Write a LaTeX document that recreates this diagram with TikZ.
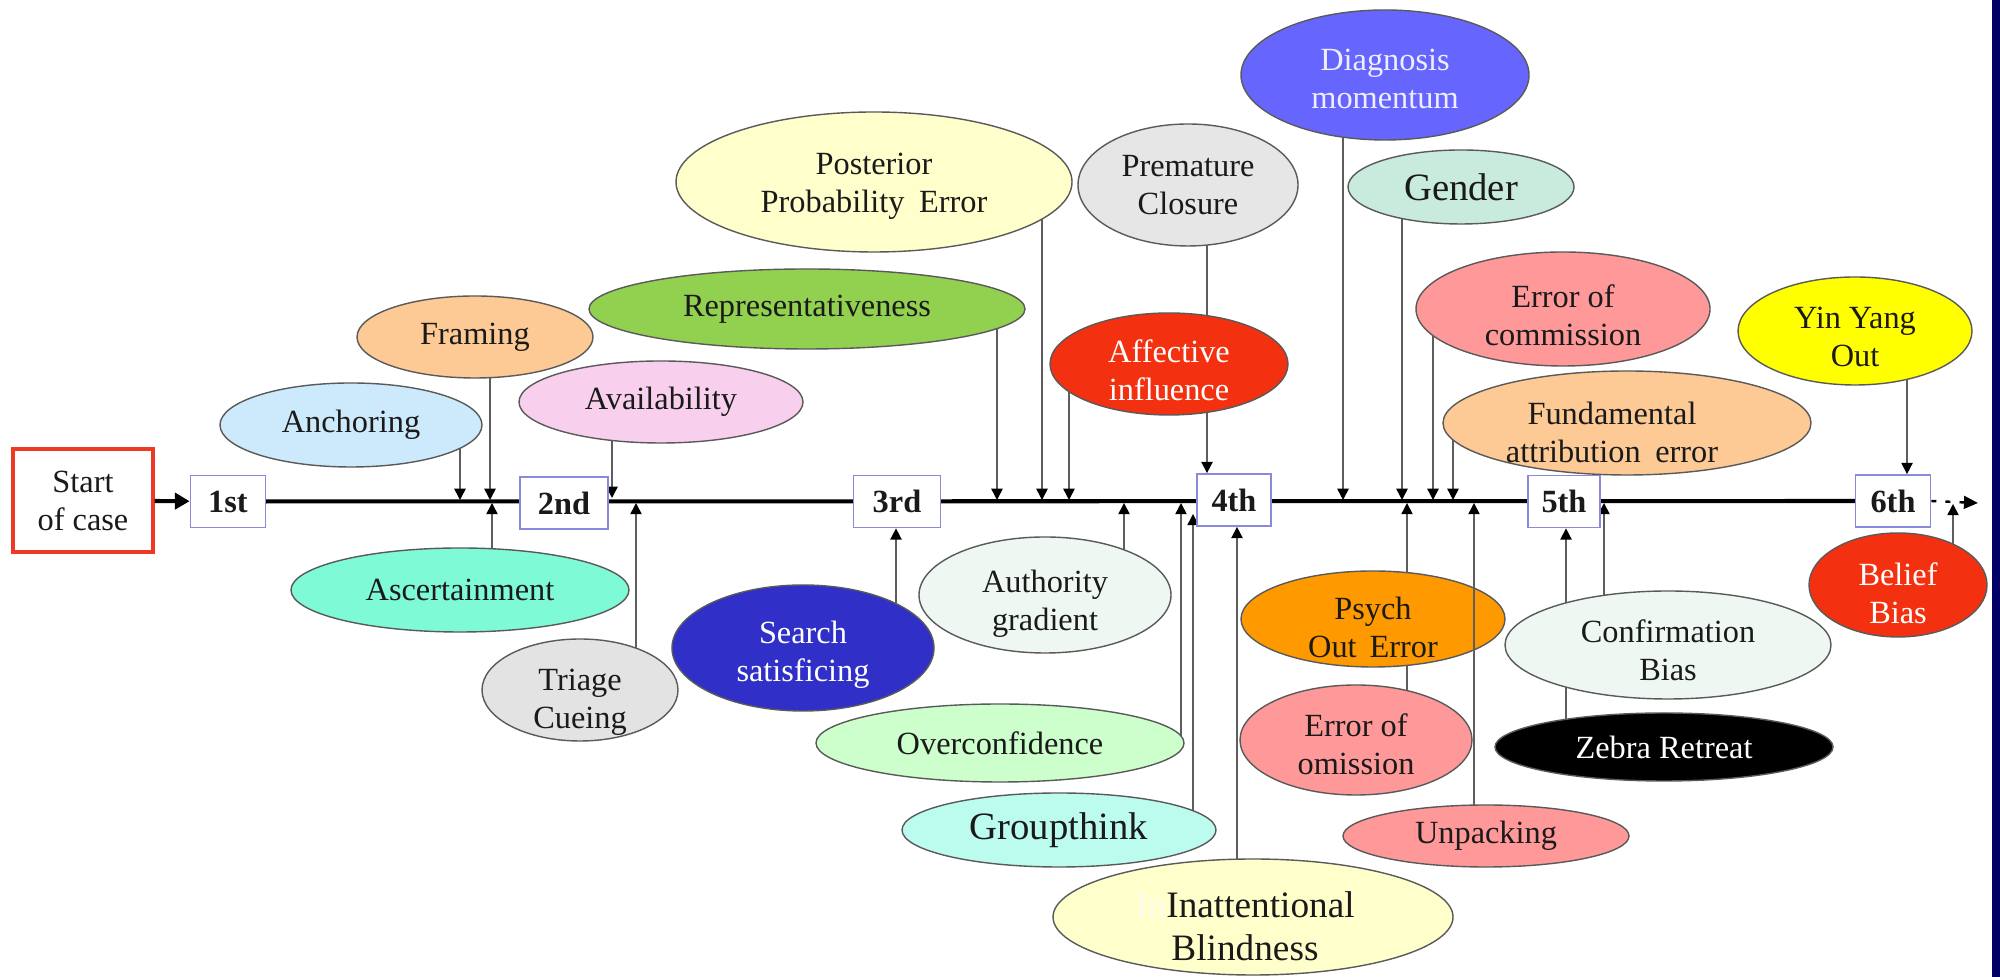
\documentclass[tikz,border=0pt]{standalone}
\usepackage{fontspec}
\setmainfont{Liberation Serif}
\usetikzlibrary{shapes.geometric,arrows.meta,backgrounds}

\definecolor{cText}{HTML}{1A1A1A}
\definecolor{cEdge}{HTML}{5A5A5A}
\definecolor{cLine}{HTML}{5E5E5E}
\definecolor{cBox}{HTML}{8A8ADC}
\definecolor{cRed}{HTML}{EE3A24}
\definecolor{cNavy}{HTML}{000066}
\definecolor{cAnch}{HTML}{CCEAFB}
\definecolor{cFram}{HTML}{FDC995}
\definecolor{cAvail}{HTML}{F8D0EE}
\definecolor{cRepr}{HTML}{92D050}
\definecolor{cPost}{HTML}{FFFFCC}
\definecolor{cPrem}{HTML}{E6E6E6}
\definecolor{cAff}{HTML}{F3300F}
\definecolor{cDiag}{HTML}{6666FF}
\definecolor{cDiagT}{HTML}{EEEEFF}
\definecolor{cGend}{HTML}{C8EBDD}
\definecolor{cEoc}{HTML}{FF9999}
\definecolor{cYin}{HTML}{FFFF00}
\definecolor{cFund}{HTML}{FDC995}
\definecolor{cAsc}{HTML}{7FFAD6}
\definecolor{cTri}{HTML}{E3E3E3}
\definecolor{cSearch}{HTML}{3030C8}
\definecolor{cAuth}{HTML}{EEF7F2}
\definecolor{cOver}{HTML}{CCFFCC}
\definecolor{cGroup}{HTML}{BBFCEE}
\definecolor{cInatt}{HTML}{FFFFCC}
\definecolor{cGhost}{HTML}{FCFCEE}
\definecolor{cPsych}{HTML}{FF9900}

\newcommand\basefont{\fontsize{9.2}{10.8}\selectfont}
\newcommand\bigfont{\fontsize{11}{12.6}\selectfont}
\newcommand\inattfont{\fontsize{10.6}{12.1}\selectfont}

% oval bias node: [label options]{name}{centre}{x radius}{y radius}{fill}{text}
\newcommand\biasnode[7][]{%
  \node[oval, fill=#6, minimum width={2*#4*0.01cm}, minimum height={2*#5*0.01cm}] (#2) at (#3) {};
  \node[lbl, #1] (#2-t) at (#2.center) {#7};}

\begin{document}
\begin{tikzpicture}[x=0.01cm, y=-0.01cm,
  oval/.style={ellipse, draw=cEdge, line width=0.4pt, inner sep=0pt, outer sep=0pt},
  lbl/.style={align=center, inner sep=0pt, text=cText, font=\basefont},
  stage/.style={draw=cBox, line width=0.5pt, fill=white, inner sep=0pt,
    minimum height={52*0.01cm}, font=\basefont\bfseries, text=cText},
  conn/.style={draw=cLine, line width=0.45pt,
    -{Triangle[width=3.2pt,length=3.2pt,color=black]}},
  tline/.style={line width=1.15pt, black},
]
\useasboundingbox (0,0) rectangle (2000,977);

% start of the case and the six stages
\node[draw=cRed, line width=0.9pt, fill=white, minimum width={140*0.01cm},
  minimum height={103*0.01cm}, align=center, font=\basefont, text=cText,
  inner sep=0pt] (start) at (83,500.5) {Start\\of case};
\node[stage, minimum width={75*0.01cm}] (b1) at (228,501.5) {1st};
\node[stage, minimum width={88*0.01cm}] (b2) at (564,503) {2nd};
\node[stage, minimum width={87*0.01cm}] (b3) at (897,501.5) {3rd};
\node[stage, minimum width={74*0.01cm}] (b4) at (1234,500) {4th};
\node[stage, minimum width={72*0.01cm}] (b5) at (1564,501.5) {5th};
\node[stage, minimum width={75*0.01cm}] (b6) at (1893,501) {6th};

% biases above the time line
\biasnode{anch}{351,425}{131}{42}{cAnch}{Anchoring}
\biasnode{fram}{475,337}{118}{41}{cFram}{Framing}
\biasnode{avail}{661,402}{142}{41}{cAvail}{Availability}
\biasnode{repr}{807,309}{218}{40}{cRepr}{Representativeness}
\biasnode[yshift=-0.04cm]{post}{874,182}{198}{70}{cPost}{Posterior\\Probability\hspace{0.45em}Error}
\biasnode{prem}{1188,185}{110}{61}{cPrem}{Premature\\Closure}
\biasnode[text=white, yshift=-0.06cm]{affect}{1169,364}{119}{51}{cAff}{Affective\\influence}
\biasnode[text=cDiagT, yshift=-0.04cm]{diag}{1385,75}{144}{65}{cDiag}{Diagnosis\\momentum}
\biasnode[font=\bigfont]{gender}{1461,187}{113}{37}{cGend}{Gender}
\biasnode[yshift=-0.06cm]{eoc}{1563,309}{147}{57}{cEoc}{Error of\\commission}
\biasnode[yshift=-0.06cm]{yin}{1855,331}{117}{54}{cYin}{Yin Yang\\Out}
\biasnode[xshift=-0.15cm, yshift=-0.09cm]{fund}{1627,423}{184}{52}{cFund}{Fundamental\\attribution\hspace{0.45em}error}

% biases below the time line
\biasnode{asc}{460,590}{169}{42}{cAsc}{Ascertainment}
\biasnode[yshift=-0.12cm]{triage}{580,690}{98}{51}{cTri}{Triage\\Cueing}
\biasnode[text=white, yshift=-0.07cm]{search}{803,648}{131}{63}{cSearch}{Search\\satisficing}
\biasnode[yshift=-0.09cm]{auth}{1045,595}{126}{58}{cAuth}{Authority\\gradient}
\biasnode{overc}{1000,743}{184}{39}{cOver}{Overconfidence}
\biasnode[font=\bigfont]{group}{1059,830}{157}{37}{cGroup}{Groupthink}
\biasnode[font=\inattfont, xshift=-0.08cm, yshift=-0.09cm]{inatt}{1253,917}{200}{58}{cInatt}{{\color{cGhost}In}Inattentional\\Blindness}
\biasnode[yshift=-0.08cm]{psych}{1373,619}{132}{48}{cPsych}{Psych\\Out\hspace{0.4em}Error}
\biasnode[yshift=-0.04cm]{eoo}{1356,740}{116}{55}{cEoc}{Error of\\omission}
\biasnode{unpack}{1486,836}{143}{31}{cEoc}{Unpacking}
\biasnode[yshift=-0.05cm]{conf}{1668,645}{163}{54}{cAuth}{Confirmation\\Bias}
\biasnode[text=white]{zebra}{1664,747}{169}{34}{black}{Zebra Retreat}
\biasnode[text=white, yshift=-0.08cm]{belief}{1898,585}{89}{52}{cAff}{Belief\\Bias}

% points where the connectors meet the time line
\coordinate (pAnch)  at (460,500);
\coordinate (pFram)  at (490,500);
\coordinate (pAvail) at (612,498);
\coordinate (pRepr)  at (997,500);
\coordinate (pPost)  at (1042,500);
\coordinate (pAff)   at (1069,500);
\coordinate (pPrem)  at (1207,0);
\coordinate (pDiag)  at (1343,500);
\coordinate (pGend)  at (1402,500);
\coordinate (pEoc)   at (1433,500);
\coordinate (pFund)  at (1453,500);
\coordinate (pYin)   at (1907,0);
\coordinate (pAsc)   at (492,503);
\coordinate (pTri)   at (636,503);
\coordinate (pSearch) at (896,0);
\coordinate (pAuth)  at (1124,503);
\coordinate (pOver)  at (1181,503);
\coordinate (pGroup) at (1193,514);
\coordinate (pInatt) at (1237,0);
\coordinate (pPsych) at (1407,503);
\coordinate (pUnp)   at (1474,503);
\coordinate (pZebra) at (1566,0);
\coordinate (pConf)  at (1604,503);
\coordinate (pBel)   at (1953,504);
\coordinate (pEnd)   at (1978,503);

\begin{pgfonlayer}{background}
  \fill[white] (0,0) rectangle (2000,977);
  \draw[tline] (b1.center) -- (b6.center);
  % downward influences
  \draw[conn] (anch.center -| pAnch) -- (pAnch);
  \draw[conn] (fram.center -| pFram) -- (pFram);
  \draw[conn] (avail.center -| pAvail) -- (pAvail);
  \draw[conn] (repr.center -| pRepr) -- (pRepr);
  \draw[conn] (post.center -| pPost) -- (pPost);
  \draw[conn] (affect.center -| pAff) -- (pAff);
  \draw[conn] (prem.center -| pPrem) -- (b4.north -| pPrem);
  \draw[conn] (diag.center -| pDiag) -- (pDiag);
  \draw[conn] (gender.center -| pGend) -- (pGend);
  \draw[conn] (eoc.center -| pEoc) -- (pEoc);
  \draw[conn] (fund.center -| pFund) -- (pFund);
  \draw[conn] (yin.center -| pYin) -- (b6.north -| pYin);
  % upward influences
  \draw[conn] (asc.center -| pAsc) -- (pAsc);
  \draw[conn] (triage.center -| pTri) -- (pTri);
  \draw[conn] (search.center -| pSearch) -- (b3.south -| pSearch);
  \draw[conn] (auth.center -| pAuth) -- (pAuth);
  \draw[conn] (overc.center -| pOver) -- (pOver);
  \draw[conn] (group.center -| pGroup) -- (pGroup);
  \draw[conn] (inatt.center -| pInatt) -- (b4.south -| pInatt);
  \draw[conn] (eoo.center -| pPsych) -- (pPsych);
  \draw[conn] (zebra.center -| pZebra) -- (b5.south -| pZebra);
  \draw[conn] (conf.center -| pConf) -- (pConf);
  \draw[conn] (belief.center -| pBel) -- (pBel);
\end{pgfonlayer}

\draw[conn] (unpack.north -| pUnp) -- (pUnp);
\draw[tline, -{Triangle[width=4.6pt,length=4.2pt]}] (start) -- (b1);
\draw[line width=0.7pt, dash pattern=on 1.4pt off 2.6pt,
  -{Triangle[width=3.6pt,length=4pt]}] (b6.east) -- (pEnd);

% frame strip on the right edge
\fill[cNavy] (1992,0) rectangle (2000,977);
\end{tikzpicture}
\end{document}
